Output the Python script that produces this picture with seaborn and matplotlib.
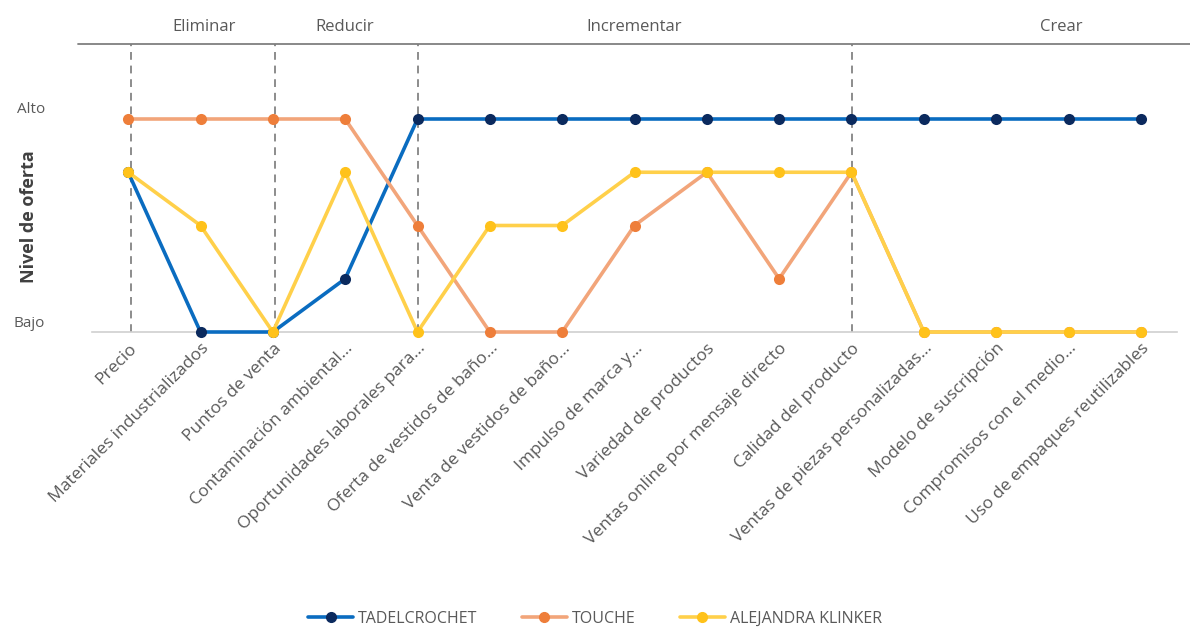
import seaborn as sns
import matplotlib.pyplot as plt
import matplotlib.lines as mlines
import numpy as np
import pandas as pd

categorias = ['Precio', 'Materiales industrializados', 'Puntos de venta',
              'Contaminación ambiental…', 'Oportunidades laborales para…',
              'Oferta de vestidos de baño…', 'Venta de vestidos de baño…',
              'Impulso de marca y…', 'Variedad de productos',
              'Ventas online por mensaje directo', 'Calidad del producto',
              'Ventas de piezas personalizadas…', 'Modelo de suscripción',
              'Compromisos con el medio…', 'Uso de empaques reutilizables']
tadelcrochet = [3, 0, 0, 1, 4, 4, 4, 4, 4, 4, 4, 4, 4, 4, 4]
touche = [4, 4, 4, 4, 2, 0, 0, 2, 3, 1, 3, 0, 0, 0, 0]
alejandra = [3, 2, 0, 3, 0, 2, 2, 3, 3, 3, 3, 0, 0, 0, 0]
series = ['TADELCROCHET', 'TOUCHE', 'ALEJANDRA KLINKER']
secciones = ['Eliminar', 'Reducir', 'Incrementar', 'Crear']
seccion_pos = [1.05, 3.0, 7.0, 12.9]
divisiones = [0.04, 2.03, 4.0, 10.01]

line_colors = ['#0A6CC0', '#F2A57A', '#FFD04A']
marker_colors = ['#0B2A5E', '#EE7E3A', '#FFC21A']

sns.set_style('white')
plt.rcParams['font.family'] = ['Open Sans', 'DejaVu Sans']

df = pd.DataFrame({
    'x': list(range(len(categorias))) * 3,
    'valor': tadelcrochet + touche + alejandra,
    'serie': [s for s in series for _ in categorias],
})

fig = plt.figure(figsize=(11.9, 6.29), dpi=100)
ax = fig.add_axes([92 / 1190, 1 - 332 / 629, (1177 - 92) / 1190, (332 - 44) / 629])

sns.lineplot(data=df, x='x', y='valor', hue='serie', hue_order=series,
             palette=line_colors, marker='o', markersize=8, linewidth=2.6,
             markeredgewidth=0, legend=False, ax=ax, clip_on=False, zorder=3)
for ln, mc in zip(ax.lines, marker_colors):
    ln.set_markerfacecolor(mc)
    ln.set_markeredgecolor(mc)

for d in divisiones:
    ax.axvline(d, color='#8C8C8C', linestyle=(0, (4, 3)), linewidth=1.4, zorder=1)

ax.set_xlim(-0.5, 14.5)
ax.set_ylim(0, (332 - 44) / 53.25)
ax.set_xticks(range(len(categorias)))
ax.set_xticklabels(categorias, rotation=45, ha='right', rotation_mode='anchor',
                   fontsize=12.5, color='#595959')
ax.set_yticks([0.2, 4.22])
ax.set_yticklabels(['Bajo', 'Alto'], fontsize=11, color='#595959')
ax.tick_params(axis='both', length=0, pad=6)
ax.tick_params(axis='y', pad=34)
ax.set_xlabel('')
ax.set_ylabel('Nivel de oferta', fontsize=13, fontweight='bold', color='#404040')
ax.yaxis.set_label_coords(-0.05, 0.4)
for s in ['top', 'right', 'left']:
    ax.spines[s].set_visible(False)
ax.spines['bottom'].set_color('#D0D0D0')
ax.spines['bottom'].set_linewidth(1.2)

fig.add_artist(mlines.Line2D([78 / 1190, 1.0], [1 - 44 / 629, 1 - 44 / 629],
                             color='#7F7F7F', linewidth=1.3))
for txt, xp in zip(secciones, seccion_pos):
    ax.text(xp, 1.06, txt, transform=ax.get_xaxis_transform(), ha='center', va='center',
            fontsize=12, color='#595959')

handles = [mlines.Line2D([], [], color=lc, marker='o', markerfacecolor=mc, markeredgecolor=mc,
                         markersize=7, linewidth=2.6) for lc, mc in zip(line_colors, marker_colors)]
fig.legend(handles, series, loc='center', bbox_to_anchor=(0.5, 1 - 619 / 629), ncol=3,
           frameon=False, fontsize=11.5, handlelength=2.8, columnspacing=2.8, handletextpad=0.3,
           labelcolor='#595959')

fig.savefig('out.png', dpi=100)
